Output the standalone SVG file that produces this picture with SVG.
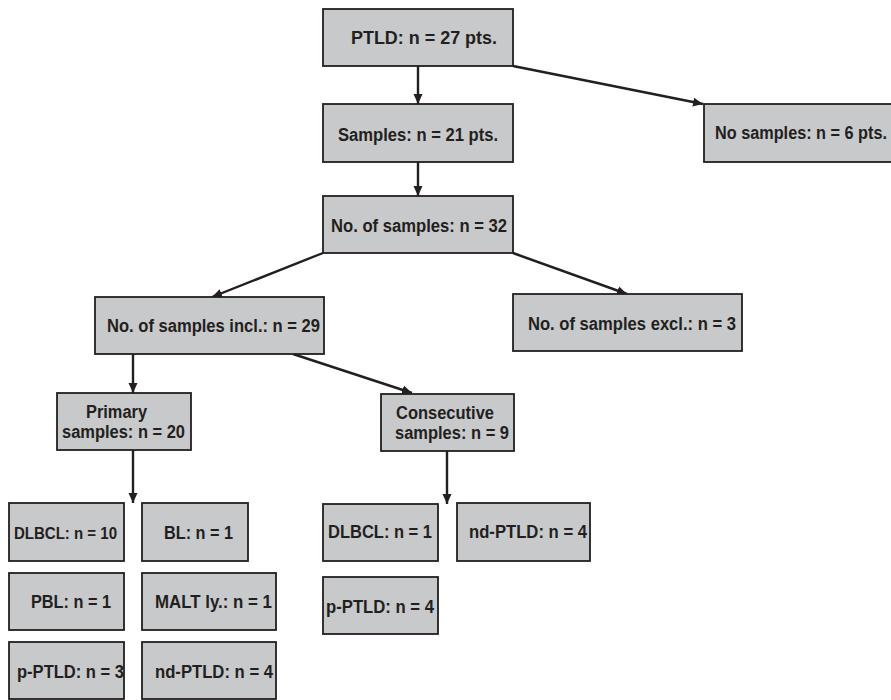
<svg xmlns="http://www.w3.org/2000/svg" width="891" height="700" viewBox="0 0 891 700">
<style>
.box{fill:#c8c9cb;stroke:#231f20;stroke-width:1.8}
.t{font-family:"Liberation Sans",Arial,sans-serif;font-weight:bold;font-size:17.5px;fill:#231f20}
.c{stroke:#231f20;stroke-width:2.4;fill:none;marker-end:url(#ah)}
</style>
<defs>
<marker id="ah" markerUnits="userSpaceOnUse" markerWidth="11" markerHeight="10" refX="10" refY="5" orient="auto">
<path d="M0,0.5 L10,5 L0,9.5 z" fill="#231f20"/>
</marker>
<clipPath id="clipP3"><rect x="9" y="642" width="115" height="58"/></clipPath>
</defs>
<rect width="891" height="700" fill="#ffffff"/>
<g id="connectors">
<line class="c" x1="418" y1="66" x2="418" y2="104"/>
<line class="c" x1="513" y1="66" x2="703" y2="104"/>
<line class="c" x1="418" y1="162" x2="418" y2="196"/>
<line class="c" x1="323" y1="253" x2="212" y2="297"/>
<line class="c" x1="513" y1="253" x2="627" y2="294"/>
<line class="c" x1="133" y1="354" x2="133" y2="393"/>
<line class="c" x1="293" y1="354" x2="412" y2="393"/>
<line class="c" x1="133" y1="450" x2="133" y2="503"/>
<line class="c" x1="447" y1="451" x2="447" y2="504"/>
</g>
<g id="n-ptld"><rect class="box" x="323" y="9" width="190" height="57"/><text class="t" x="351" y="44" style="font-size:18.8px" textLength="146" lengthAdjust="spacingAndGlyphs">PTLD: n = 27 pts.</text></g>
<g id="n-samples"><rect class="box" x="323" y="104" width="190" height="58"/><text class="t" x="338" y="140.5" textLength="160" lengthAdjust="spacingAndGlyphs">Samples: n = 21 pts.</text></g>
<g id="n-nosamples"><rect class="box" x="704" y="104" width="192" height="58"/><text class="t" x="715" y="139" textLength="172" lengthAdjust="spacingAndGlyphs">No samples: n = 6 pts.</text></g>
<g id="n-count"><rect class="box" x="323" y="196" width="190" height="57"/><text class="t" x="331" y="232" textLength="176" lengthAdjust="spacingAndGlyphs">No. of samples: n = 32</text></g>
<g id="n-incl"><rect class="box" x="95" y="297" width="229" height="57"/><text class="t" x="107" y="332" textLength="213" lengthAdjust="spacingAndGlyphs">No. of samples incl.: n = 29</text></g>
<g id="n-excl"><rect class="box" x="513" y="294" width="229" height="57"/><text class="t" x="528" y="330" textLength="208" lengthAdjust="spacingAndGlyphs">No. of samples excl.: n = 3</text></g>
<g id="n-primary"><rect class="box" x="57" y="393" width="134" height="57"/><text class="t" x="86" y="418" textLength="61" lengthAdjust="spacingAndGlyphs">Primary</text><text class="t" x="62" y="438" textLength="123" lengthAdjust="spacingAndGlyphs">samples: n = 20</text></g>
<g id="n-consecutive"><rect class="box" x="381" y="394" width="133" height="57"/><text class="t" x="396" y="419" textLength="98" lengthAdjust="spacingAndGlyphs">Consecutive</text><text class="t" x="395" y="439" textLength="114" lengthAdjust="spacingAndGlyphs">samples: n = 9</text></g>
<g id="n-dlbcl10"><rect class="box" x="9" y="503" width="115" height="58"/><text class="t" x="14" y="539" style="font-size:16px" textLength="103" lengthAdjust="spacingAndGlyphs">DLBCL: n = 10</text></g>
<g id="n-bl"><rect class="box" x="142" y="503" width="106" height="58"/><text class="t" x="164" y="539" textLength="69" lengthAdjust="spacingAndGlyphs">BL: n = 1</text></g>
<g id="n-pbl"><rect class="box" x="9" y="573" width="115" height="57"/><text class="t" x="31" y="608" textLength="80" lengthAdjust="spacingAndGlyphs">PBL: n = 1</text></g>
<g id="n-malt"><rect class="box" x="142" y="573" width="134" height="57"/><text class="t" x="155" y="608" textLength="117" lengthAdjust="spacingAndGlyphs">MALT ly.: n = 1</text></g>
<g id="n-pptld3"><rect class="box" x="9" y="642" width="115" height="57"/><text class="t" x="17" y="678" clip-path="url(#clipP3)" textLength="107" lengthAdjust="spacingAndGlyphs">p-PTLD: n = 3</text></g>
<g id="n-ndptld4a"><rect class="box" x="142" y="642" width="134" height="57"/><text class="t" x="155" y="678" textLength="118" lengthAdjust="spacingAndGlyphs">nd-PTLD: n = 4</text></g>
<g id="n-dlbcl1"><rect class="box" x="323" y="504" width="115" height="57"/><text class="t" x="328" y="538" textLength="104" lengthAdjust="spacingAndGlyphs">DLBCL: n = 1</text></g>
<g id="n-ndptld4b"><rect class="box" x="457" y="503" width="133" height="58"/><text class="t" x="469" y="538" textLength="118" lengthAdjust="spacingAndGlyphs">nd-PTLD: n = 4</text></g>
<g id="n-pptld4"><rect class="box" x="323" y="577" width="115" height="57"/><text class="t" x="326" y="613" textLength="108" lengthAdjust="spacingAndGlyphs">p-PTLD: n = 4</text></g>
</svg>
